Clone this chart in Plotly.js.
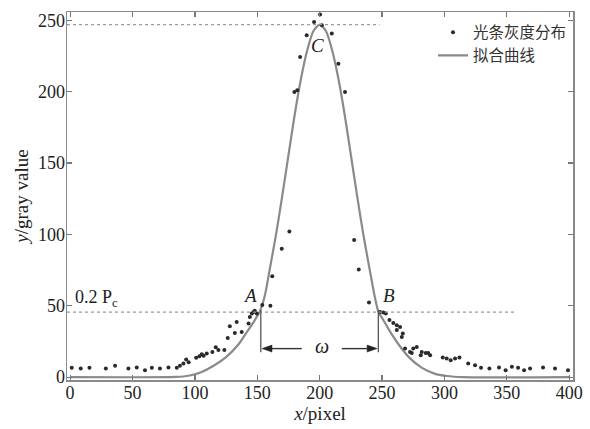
<!DOCTYPE html>
<html>
<head>
<meta charset="utf-8">
<script src="https://cdn.plot.ly/plotly-3.0.1.min.js"></script>
<style>html,body{margin:0;padding:0;background:#fff;}#chart{width:590px;height:429px;}</style>
</head>
<body>
<div id="chart"></div>
<script>
// Measured gray values of the light stripe (光条灰度分布)
const pointsX = [1.3, 8.5, 15.5, 28.6, 36, 46.7, 53.4, 60, 65.5, 72, 78.8, 85.5, 88, 90.8, 93, 95,
  101, 103.6, 105.5, 107, 109.5, 114, 116.7, 118.8, 123.6, 126.3, 128, 132, 133.5, 137.5,
  143, 144, 145.6, 147, 148, 149.6, 154, 160.5, 162, 169.6, 175.7, 179.7, 182, 184.3,
  189.6, 195.5, 200.3, 201.7, 209.7, 215, 220.3, 227.6, 231.3, 239.5, 248.4, 251, 253,
  255.9, 259, 261.8, 264.4, 266.6, 261.8, 265.8, 268.4, 272.4, 273.8, 275, 277.8, 281,
  281.8, 285, 287, 288.5, 298.6, 301.8, 305, 308.5, 312, 319, 324.5, 329.3, 336, 343.7,
  349, 354, 359, 363.8, 368.6, 379, 388.6, 399];
const pointsY = [6.5, 6, 6.5, 6, 8, 6, 6.8, 4.9, 6.5, 6, 6.8, 6.5, 8, 9.6, 12.4, 10.5,
  13.5, 14.7, 16, 15, 16.5, 17.7, 21, 19, 19, 27.5, 35.7, 31, 38.7, 31.7,
  37.6, 42.2, 44.6, 45.7, 46.5, 44.6, 50.5, 50, 70.7, 90, 102, 199.8, 201, 224.3,
  239.5, 248.8, 254, 246.5, 240.7, 219.6, 199.8, 96, 75.4, 52.3, 45.7, 45.3, 44.6,
  40, 38, 36.4, 35.2, 30.6, 33, 28.2, 20, 17.7, 17, 20, 21.2, 15.4,
  17.7, 17, 17, 15.4, 13.8, 13, 11.9, 13, 13.8, 9.6, 8.4, 6.5, 6, 6.8,
  4.9, 7.2, 6.5, 4.9, 6, 6.8, 6, 4.9];

// Fitted curve (拟合曲线)
const curveX = [0, 85, 95, 105, 115, 125, 135, 142, 148, 152, 156, 160, 165, 170, 175, 180,
  185, 190, 195, 200, 205, 210, 215, 220, 225, 230, 235, 240, 244, 247, 251, 257, 264,
  272, 282, 292, 302, 315, 400];
const curveY = [0, 0.2, 1, 3.5, 8, 14, 23, 32, 40, 46, 57, 75.7, 99.8, 127, 155.6, 184,
  209, 229, 242.5, 247, 242.5, 229, 209, 184, 155.6, 127, 99.8, 75.7, 57, 46, 40, 31, 22,
  13.5, 6.5, 2.5, 0.8, 0, 0];

// Reference levels: Pc and 0.2 Pc, with the x extent of each dotted line
const refLevels = [247, 45.5];
const refEnds = [248, 356];
// Stripe width limits A and B, and the arrow line level
const widthX = [152.8, 247];
const widthTop = 47;
const arrowLevel = 20;
const arrowInner = [185.6, 217.7];

const serif = 'Liberation Serif, Times New Roman, serif';
const cjk = 'Noto Sans CJK SC, sans-serif';
const xr = [-2.5, 403];
const yr = [-2, 255.8];
// pixel -> data unit factors for arrowheads
const pxX = (xr[1] - xr[0]) / 506;
const pxY = (yr[1] - yr[0]) / 368;

const traces = [
  {x: curveX, y: curveY, type: 'scatter', mode: 'lines', name: '拟合曲线',
   line: {color: '#8a8a8a', width: 2.2, shape: 'spline', smoothing: 0.7}},
  {x: pointsX, y: pointsY, type: 'scatter', mode: 'markers', name: '光条灰度分布',
   marker: {color: '#2a2a2a', size: 4}}
];

const shapes = [];
refLevels.forEach((lv, i) => {
  shapes.push({type: 'line', xref: 'x', yref: 'y', x0: xr[0], x1: refEnds[i], y0: lv, y1: lv,
    line: {color: '#9a9a9a', width: 1.2, dash: 'dot'}});
});
widthX.forEach((wx, i) => {
  shapes.push({type: 'line', xref: 'x', yref: 'y', x0: wx, x1: wx, y0: widthTop, y1: arrowLevel - 2.5,
    line: {color: '#555', width: 1.3}});
  const dir = i === 0 ? 1 : -1;
  const tip = wx + dir * 1.2 * pxX;
  const base = tip + dir * 10 * pxX;
  shapes.push({type: 'line', xref: 'x', yref: 'y', x0: arrowInner[i], x1: base, y0: arrowLevel, y1: arrowLevel,
    line: {color: '#333', width: 1.4}});
  shapes.push({type: 'path', xref: 'x', yref: 'y',
    path: 'M ' + tip + ' ' + arrowLevel + ' L ' + base + ' ' + (arrowLevel + 3.5 * pxY) +
          ' L ' + base + ' ' + (arrowLevel - 3.5 * pxY) + ' Z',
    fillcolor: '#222', line: {color: '#222', width: 0.5}});
});

const annotations = [
  {x: 201.5, y: arrowLevel + 1.5, xref: 'x', yref: 'y', text: '<i>ω</i>', showarrow: false,
   font: {family: serif, size: 20, color: '#222'}},
  {x: 198, y: 232, xref: 'x', yref: 'y', text: '<i>C</i>', showarrow: false,
   font: {family: serif, size: 19, color: '#222'}},
  {x: 144, y: 57, xref: 'x', yref: 'y', text: '<i>A</i>', showarrow: false,
   font: {family: serif, size: 19, color: '#222'}},
  {x: 255.5, y: 57, xref: 'x', yref: 'y', text: '<i>B</i>', showarrow: false,
   font: {family: serif, size: 19, color: '#222'}},
  {x: 2, y: 55, xref: 'x', yref: 'y', xanchor: 'left', text: '0.2 P<sub>c</sub>', showarrow: false,
   font: {family: serif, size: 18, color: '#222'}}
];

const axisCommon = {
  showgrid: false, zeroline: false, showline: true, linecolor: '#8a8a8a', linewidth: 1.5,
  mirror: 'ticks', ticks: 'inside', ticklen: 5, tickcolor: '#777', tickwidth: 1.2,
  tickfont: {family: serif, size: 18, color: '#222'}
};

const layout = {
  width: 590, height: 429,
  margin: {l: 67, r: 17, t: 12, b: 49},
  paper_bgcolor: '#fff', plot_bgcolor: '#fff',
  showlegend: true,
  legend: {x: 0.998, xanchor: 'right', y: 0.99, yanchor: 'top', traceorder: 'reversed',
    bgcolor: 'rgba(0,0,0,0)', font: {family: cjk, size: 15.5, color: '#333'},
    tracegroupgap: 0, itemwidth: 30},
  xaxis: Object.assign({}, axisCommon, {range: xr, tickvals: [0, 50, 100, 150, 200, 250, 300, 350, 400],
    ticklabelstandoff: -4,
    title: {text: '<i>x</i>/pixel', font: {family: serif, size: 19, color: '#222'}, standoff: 0}}),
  yaxis: Object.assign({}, axisCommon, {range: yr, tickvals: [0, 50, 100, 150, 200, 250],
    ticklabelstandoff: -3,
    title: {text: '<i>y</i>/gray value', font: {family: serif, size: 19, color: '#222'}, standoff: 4}}),
  shapes: shapes,
  annotations: annotations
};

Plotly.newPlot('chart', traces, layout, {displayModeBar: false, staticPlot: true});
</script>
</body>
</html>
